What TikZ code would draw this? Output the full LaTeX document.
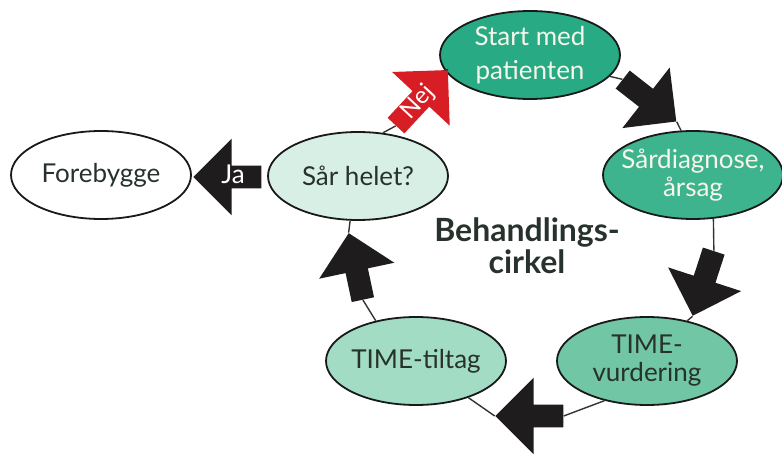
\documentclass[tikz,border=0pt]{standalone}
\usepackage{fontspec}
\setmainfont{Lato}
\usetikzlibrary{shapes.geometric,shapes.arrows}
\definecolor{tealdark}{RGB}{40,170,132}
\definecolor{tealmid}{RGB}{62,180,142}
\definecolor{teallight}{RGB}{112,198,165}
\definecolor{tealpale}{RGB}{162,220,197}
\definecolor{tealwhite}{RGB}{216,239,229}
\definecolor{lighttext}{RGB}{246,246,234}
\definecolor{darktext}{RGB}{40,50,45}
\definecolor{arrowblack}{RGB}{30,28,28}
\definecolor{nejred}{RGB}{214,30,36}

\begin{document}
\begin{tikzpicture}[x=0.5pt,y=-0.5pt,
    phase/.style={ellipse,draw=black!90,line width=0.9pt,minimum width=90pt,
      minimum height=44pt,inner xsep=-8pt,inner ysep=-4pt,align=center,
      text=darktext,font=\fontsize{13}{14}\selectfont},
    blockarrow/.style={single arrow,fill=arrowblack,minimum height=34pt,
      single arrow head extend=13.5pt,inner xsep=0pt,inner ysep=2pt,
      text height=7pt,text depth=0pt,text=white,font=\fontsize{13}{14}\selectfont},
    link/.style={draw=black!80,line width=0.7pt}]
    \useasboundingbox (0,0) rectangle (782,454);
    %states
    \node[phase,fill=tealdark,text=lighttext] (start) at (530,55) {Start med\\[3pt]patienten};
    \node[phase,fill=tealmid,text=lighttext] (diag) at (693,175) {Sårdiagnose,\\årsag};
    \node[phase,fill=teallight] (vurd) at (647,361) {TIME-\\vurdering};
    \node[phase,fill=tealpale] (tiltag) at (416,361) {TIME-tiltag};
    \node[phase,fill=tealwhite] (saar) at (358,176) {Sår helet?};
    \node[phase,fill=white] (fore) at (101,175) {Forebygge};
    \node[font=\bfseries\fontsize{16}{16}\selectfont,align=center,text=darktext] (title) at (527,246) {Behandlings-\\cirkel};
    %arrows
    \node[blockarrow,rotate=-38] (a1) at (645,97) {};
    \node[blockarrow,rotate=-108] (a2) at (705,278) {};
    \node[blockarrow,rotate=180] (a3) at (535,416) {};
    \node[blockarrow,rotate=102] (a4) at (357,272) {};
    \node[blockarrow,fill=nejred,rotate=47,minimum height=38pt,single arrow head extend=14pt,
      font=\fontsize{12}{13}\selectfont] (nej) at (418,102) {Nej};
    \node[blockarrow,shape border rotate=180] (ja) at (233,177) {Ja};
    %edges
    \path[link]
     (start.-15) edge (a1.tail)
     (a1.tip) edge (diag.105)
     (diag.-65) edge (a2.tail)
     (a2.tip) edge (vurd.45)
     (vurd.223) edge (a3.tail)
     (a3.tip) edge (tiltag.-35)
     (tiltag.135) edge (a4.tail)
     (a4.tip) edge (saar.-100)
     (saar.60) edge (nej.tail)
     (nej.tip) edge (start.190);
\end{tikzpicture}
\end{document}
